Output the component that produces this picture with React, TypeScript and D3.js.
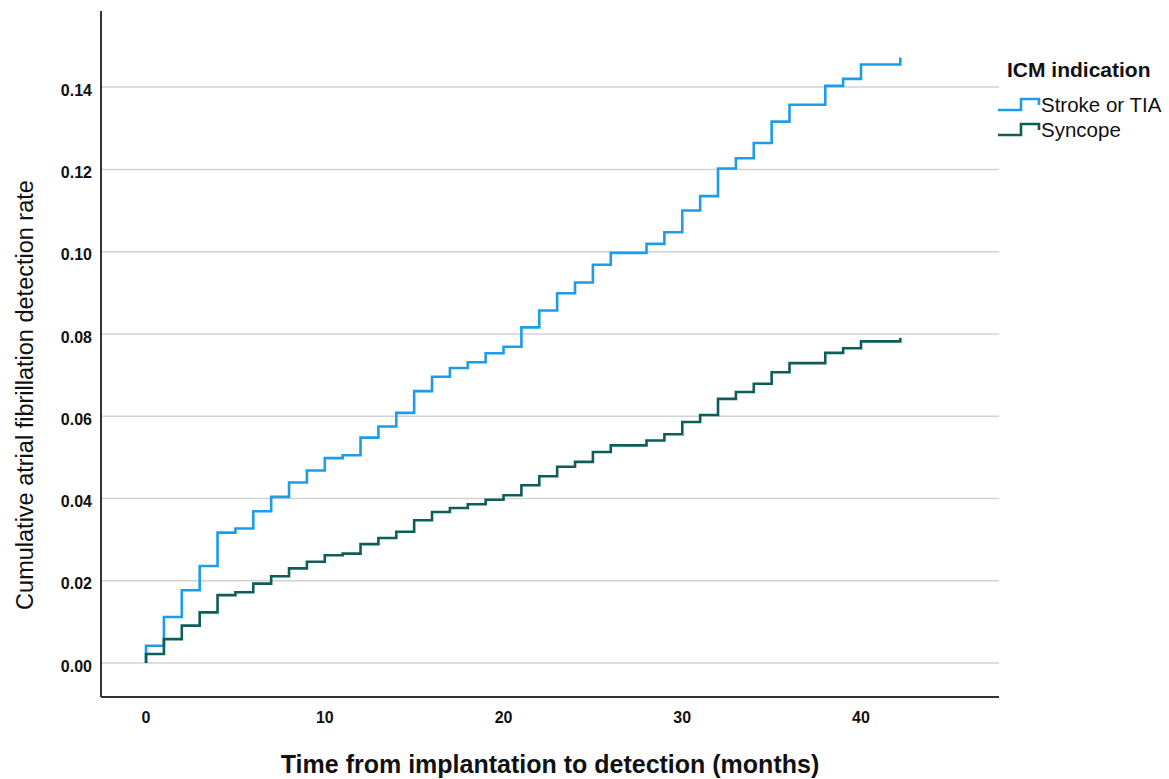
import { useEffect, useRef } from 'react';
import * as d3 from 'd3';

// months at which the cumulative rate steps up (last one is end of follow-up)
const months = [
  0, 1, 2, 3, 4, 5, 6, 7, 8, 9, 10, 11, 12, 13, 14, 15, 16, 17, 18, 19, 20,
  21, 22, 23, 24, 25, 26, 27, 28, 29, 30, 31, 32, 33, 34, 35, 36, 37, 38, 39,
  40, 41, 42.2,
];

const strokeRate = [
  0.0042, 0.0112, 0.0177, 0.0236, 0.0317, 0.0327, 0.0369, 0.0404, 0.0439,
  0.0468, 0.0498, 0.0505, 0.0548, 0.0575, 0.0608, 0.0661, 0.0696, 0.0717,
  0.0731, 0.0753, 0.0769, 0.0816, 0.0857, 0.0899, 0.0925, 0.0968, 0.0997,
  0.0997, 0.1019, 0.1047, 0.11, 0.1135, 0.1202, 0.1227, 0.1264, 0.1316,
  0.1357, 0.1357, 0.1403, 0.142, 0.1455, 0.1455, 0.1472,
];

const syncopeRate = [
  0.0022, 0.0058, 0.0091, 0.0123, 0.0165, 0.0172, 0.0193, 0.0211, 0.023,
  0.0246, 0.0262, 0.0266, 0.0289, 0.0304, 0.0319, 0.0347, 0.0367, 0.0377,
  0.0386, 0.0397, 0.0408, 0.0432, 0.0454, 0.0477, 0.0489, 0.0513, 0.0529,
  0.0529, 0.0541, 0.0556, 0.0586, 0.0603, 0.0642, 0.0659, 0.0679, 0.0707,
  0.0729, 0.0729, 0.0754, 0.0765, 0.0782, 0.0782, 0.079,
];

const xTicks = [0, 10, 20, 30, 40];
const yTicks = [0, 0.02, 0.04, 0.06, 0.08, 0.1, 0.12, 0.14];

const series = [
  { name: 'Stroke or TIA', values: strokeRate, color: '#1e9be9' },
  { name: 'Syncope', values: syncopeRate, color: '#0d5d5b' },
];

const font = 'Arial, "Liberation Sans", sans-serif';

const App = () => {
  const svgRef = useRef<SVGSVGElement>(null);

  useEffect(() => {
    const width = 1169;
    const height = 779;
    const left = 101;
    const right = 999;
    const top = 11;
    const bottom = 697;

    const svg = d3.select(svgRef.current)
      .attr('width', width)
      .attr('height', height);
    svg.selectAll('*').remove();

    const xScale = d3.scaleLinear()
      .domain([-2.52, 47.72])
      .range([left, right]);

    const yScale = d3.scaleLinear()
      .domain([-0.00826, 0.1585])
      .range([bottom, top]);

    // gridlines
    svg.append('g')
      .selectAll('line')
      .data(yTicks)
      .enter().append('line')
      .attr('x1', left)
      .attr('x2', right)
      .attr('y1', d => yScale(d))
      .attr('y2', d => yScale(d))
      .attr('stroke', '#d2d2d2')
      .attr('stroke-width', 1.5);

    // y tick labels
    svg.append('g')
      .selectAll('text')
      .data(yTicks)
      .enter().append('text')
      .attr('x', 92)
      .attr('y', d => yScale(d) + 3)
      .attr('dy', '0.35em')
      .attr('text-anchor', 'end')
      .attr('font-family', font)
      .attr('font-weight', 'bold')
      .attr('font-size', 16)
      .attr('fill', '#111')
      .text(d => d3.format('.2f')(d));

    // x tick labels
    svg.append('g')
      .selectAll('text')
      .data(xTicks)
      .enter().append('text')
      .attr('x', d => xScale(d))
      .attr('y', 717)
      .attr('dy', '0.35em')
      .attr('text-anchor', 'middle')
      .attr('font-family', font)
      .attr('font-weight', 'bold')
      .attr('font-size', 16)
      .attr('fill', '#111')
      .text(d => d);

    // step curves, starting from zero at time 0
    const line = d3.line<[number, number]>()
      .x(d => xScale(d[0]))
      .y(d => yScale(d[1]))
      .curve(d3.curveStepAfter);

    svg.append('g')
      .selectAll('path')
      .data(series)
      .enter().append('path')
      .attr('fill', 'none')
      .attr('stroke', d => d.color)
      .attr('stroke-width', 2.6)
      .attr('d', d => {
        const pts: [number, number][] = [[0, 0]];
        d.values.forEach((v, i) => pts.push([months[i], v]));
        return line(pts);
      });

    // axes frame
    svg.append('line')
      .attr('x1', left).attr('x2', left)
      .attr('y1', top).attr('y2', bottom)
      .attr('stroke', '#333').attr('stroke-width', 2);
    svg.append('line')
      .attr('x1', left).attr('x2', right)
      .attr('y1', bottom).attr('y2', bottom)
      .attr('stroke', '#333').attr('stroke-width', 2);

    // axis titles
    svg.append('text')
      .attr('x', 550)
      .attr('y', 773)
      .attr('text-anchor', 'middle')
      .attr('font-family', font)
      .attr('font-weight', 'bold')
      .attr('font-size', 25)
      .attr('fill', '#111')
      .text('Time from implantation to detection (months)');

    svg.append('text')
      .attr('transform', 'translate(33, 395) rotate(-90)')
      .attr('text-anchor', 'middle')
      .attr('font-family', font)
      .attr('font-size', 23.5)
      .attr('fill', '#111')
      .text('Cumulative atrial fibrillation detection rate');

    // legend
    const legend = svg.append('g');
    legend.append('text')
      .attr('x', 1007)
      .attr('y', 77)
      .attr('font-family', font)
      .attr('font-weight', 'bold')
      .attr('font-size', 21)
      .attr('fill', '#111')
      .text('ICM indication');

    series.forEach((s, i) => {
      const y0 = 110 + i * 25;
      legend.append('path')
        .attr('fill', 'none')
        .attr('stroke', s.color)
        .attr('stroke-width', 2.6)
        .attr('d', `M998,${y0}H1021V${y0 - 11}H1039V${y0 - 5}`);
      legend.append('text')
        .attr('x', 1041)
        .attr('y', y0 + 2)
        .attr('font-family', font)
        .attr('font-size', 20.5)
        .attr('fill', '#111')
        .text(s.name);
    });
  }, []);

  return (
    <div style={{ position: 'absolute', left: 0, top: 0 }}>
      <svg ref={svgRef} />
    </div>
  );
};

export default App;
